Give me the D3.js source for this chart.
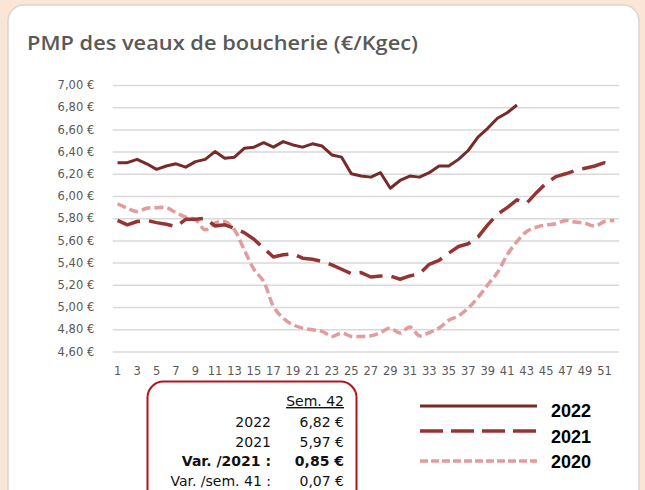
<!DOCTYPE html>
<html>
<head>
<meta charset="utf-8">
<script src="https://cdn.jsdelivr.net/npm/d3@7"></script>
<style>
  body { margin: 0; background: #fbe5d6; }
  svg { display: block; }
</style>
</head>
<body>
<svg id="chart"></svg>
<script>
// Weeks 1..52
const weeks = Array.from({ length: 52 }, (d, i) => i + 1);
const weekLabels = weeks.filter(w => w % 2 === 1);

const yTicks = [4.6, 4.8, 5.0, 5.2, 5.4, 5.6, 5.8, 6.0, 6.2, 6.4, 6.6, 6.8, 7.0];

const values2022 = [6.30, 6.30, 6.33, 6.29, 6.24, 6.27, 6.29, 6.26, 6.31, 6.33,
    6.40, 6.34, 6.35, 6.43, 6.44, 6.48, 6.44, 6.49, 6.46, 6.44,
    6.47, 6.45, 6.37, 6.35, 6.20, 6.18, 6.17, 6.21, 6.07, 6.14,
    6.18, 6.17, 6.21, 6.27, 6.27, 6.33, 6.41, 6.53, 6.61, 6.70,
    6.75, 6.82];

const values2021 = [5.78, 5.74, 5.77, 5.78, 5.76, 5.745, 5.725, 5.79, 5.79, 5.80,
    5.73, 5.74, 5.71, 5.67, 5.61, 5.53, 5.45, 5.47, 5.48, 5.44,
    5.43, 5.41, 5.38, 5.34, 5.30, 5.31, 5.27, 5.28, 5.28, 5.25,
    5.28, 5.30, 5.385, 5.42, 5.485, 5.545, 5.57, 5.63, 5.74, 5.835,
    5.895, 5.965, 5.935, 6.03, 6.115, 6.175, 6.20, 6.23, 6.25, 6.27,
    6.30, 6.29];

const values2020 = [5.93, 5.89, 5.86, 5.89, 5.895, 5.895, 5.85, 5.81, 5.785, 5.695,
    5.755, 5.77, 5.695, 5.515, 5.34, 5.23, 5.005, 4.90, 4.84, 4.81,
    4.795, 4.78, 4.735, 4.765, 4.735, 4.735, 4.74, 4.77, 4.81, 4.765,
    4.82, 4.74, 4.77, 4.81, 4.88, 4.92, 4.99, 5.085, 5.20, 5.31,
    5.47, 5.59, 5.68, 5.72, 5.74, 5.75, 5.78, 5.765, 5.755, 5.73,
    5.77, 5.78];

// Summary table (week 42)
const tableHeader = "Sem. 42";
const tableLabels = ["2022", "2021", "Var. /2021 :", "Var. /sem. 41 :"];
const tableValues = ["6,82 €", "5,97 €", "0,85 €", "0,07 €"];
const tableBold = [false, false, true, false];

const seriesNames = ["2022", "2021", "2020"];

const width = 645;
const height = 490;

// Colors & styles per series
const colors = ["#772a2a", "#953533", "#e39c9c"];
const dashes = [null, "24,9", "9,4"];
const legendDashes = [null, "23,8", "8,3"];
const strokeWidths = [3, 3.5, 3.5];

const tickFont = "'DejaVu Sans', sans-serif";

const svg = d3.select("#chart")
    .attr("width", width)
    .attr("height", height);

// White panel
svg.append("rect")
    .attr("x", 8)
    .attr("y", 5)
    .attr("width", 631)
    .attr("height", 520)
    .attr("rx", 16)
    .attr("fill", "#fff")
    .attr("stroke", "#d6d6d6")
    .attr("stroke-width", 1.5);

// Title
svg.append("text")
    .attr("x", 27)
    .attr("y", 50)
    .attr("textLength", 391)
    .attr("lengthAdjust", "spacingAndGlyphs")
    .style("font-family", "'Open Sans', sans-serif")
    .style("font-weight", 600)
    .style("font-size", "19px")
    .attr("fill", "#595959")
    .text("PMP des veaux de boucherie (€/Kgec)");

// Scales
const x = d3.scaleBand()
    .domain(weeks)
    .range([112.7, 619.2]);

const y = d3.scaleLinear()
    .domain([4.6, 7.0])
    .range([351.4, 85]);

const locale = d3.formatLocale({ decimal: ",", thousands: " ", grouping: [3], currency: ["", " €"] });
const fmt = locale.format("$.2f");

// Y axis with gridlines
const yAxis = svg.append("g")
    .attr("transform", `translate(${x.range()[0]}, 0)`)
    .call(d3.axisLeft(y)
        .tickValues(yTicks)
        .tickSize(-(x.range()[1] - x.range()[0]))
        .tickPadding(18.5)
        .tickFormat(fmt));

yAxis.select(".domain").remove();
yAxis.selectAll("line")
    .attr("stroke", "#d9d9d9")
    .attr("stroke-width", 1.5);
yAxis.selectAll("text")
    .style("font-family", tickFont)
    .style("font-size", "11.5px")
    .attr("fill", "#595959");

// X axis
const xAxis = svg.append("g")
    .attr("transform", `translate(0, ${y(4.6)})`)
    .call(d3.axisBottom(x)
        .tickValues(weekLabels)
        .tickSize(0)
        .tickPadding(15));

xAxis.select(".domain").remove();
xAxis.selectAll("text")
    .style("font-family", tickFont)
    .style("font-size", "11.5px")
    .attr("fill", "#595959");

// Lines
const cx = w => x(w) + x.bandwidth() / 2;

const series = [values2022, values2021, values2020];
const curves = [d3.curveLinear, d3.curveLinear, d3.curveCatmullRom.alpha(0.5)];

// draw 2020 first so 2022 ends on top
[2, 1, 0].forEach(i => {
    const line = d3.line()
        .x((d, j) => cx(weeks[j]))
        .y(d => y(d))
        .curve(curves[i]);

    svg.append("path")
        .datum(series[i])
        .attr("d", line)
        .attr("fill", "none")
        .attr("stroke", colors[i])
        .attr("stroke-width", strokeWidths[i])
        .attr("stroke-linejoin", "round")
        .attr("stroke-dasharray", dashes[i]);
});

// Legend
const legendY = [406, 431, 461];
const legendTextY = [417, 443, 468];
const legend = svg.append("g");
seriesNames.forEach((name, i) => {
    legend.append("line")
        .attr("x1", 420)
        .attr("x2", 537)
        .attr("y1", legendY[i])
        .attr("y2", legendY[i])
        .attr("stroke", colors[i])
        .attr("stroke-width", strokeWidths[i])
        .attr("stroke-dasharray", legendDashes[i]);

    legend.append("text")
        .attr("x", 551)
        .attr("y", legendTextY[i])
        .style("font-family", "'Liberation Sans', Arial, sans-serif")
        .style("font-weight", "bold")
        .style("font-size", "18px")
        .attr("fill", "#000")
        .text(name);
});

// Summary table box
const table = svg.append("g");
table.append("rect")
    .attr("x", 147.5)
    .attr("y", 381.5)
    .attr("width", 209)
    .attr("height", 130)
    .attr("rx", 16)
    .attr("fill", "#fff")
    .attr("stroke", "#b0141c")
    .attr("stroke-width", 2);

table.append("text")
    .attr("x", 344)
    .attr("y", 406)
    .attr("text-anchor", "end")
    .style("font-family", tickFont)
    .style("font-size", "14px")
    .style("text-decoration", "underline")
    .attr("fill", "#111")
    .text(tableHeader);

const rowY = [426.5, 446.5, 466, 486];
tableLabels.forEach((label, i) => {
    table.append("text")
        .attr("x", 271)
        .attr("y", rowY[i])
        .attr("text-anchor", "end")
        .style("font-family", tickFont)
        .style("font-size", "14px")
        .style("font-weight", tableBold[i] ? "bold" : "normal")
        .attr("fill", "#111")
        .text(label);

    table.append("text")
        .attr("x", 344)
        .attr("y", rowY[i])
        .attr("text-anchor", "end")
        .style("font-family", tickFont)
        .style("font-size", "14px")
        .style("font-weight", tableBold[i] ? "bold" : "normal")
        .attr("fill", "#111")
        .text(tableValues[i]);
});
</script>
</body>
</html>
